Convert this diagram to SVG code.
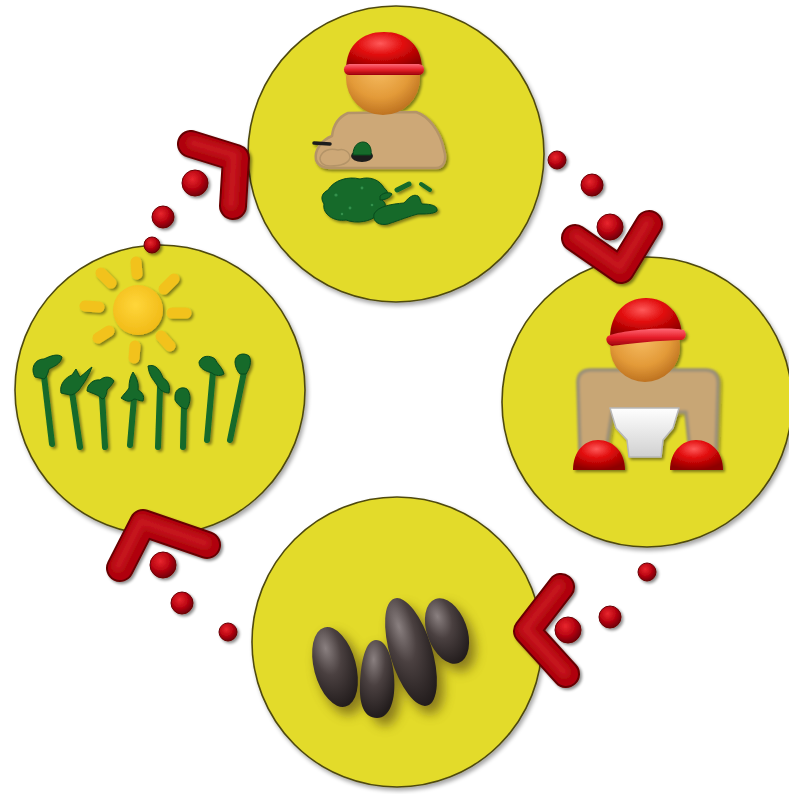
<svg xmlns="http://www.w3.org/2000/svg" width="789" height="794" viewBox="0 0 789 794">
  <defs>
    <filter id="disc-shadow" x="-10%" y="-10%" width="125%" height="125%">
      <feGaussianBlur in="SourceAlpha" stdDeviation="2"/>
      <feOffset dx="2" dy="3" result="o"/>
      <feComponentTransfer><feFuncA type="linear" slope="0.35"/></feComponentTransfer>
      <feMerge><feMergeNode/><feMergeNode in="SourceGraphic"/></feMerge>
    </filter>
    <filter id="soft-shadow" x="-30%" y="-30%" width="160%" height="160%">
      <feGaussianBlur in="SourceAlpha" stdDeviation="1.5"/>
      <feOffset dx="2" dy="2"/>
      <feComponentTransfer><feFuncA type="linear" slope="0.45"/></feComponentTransfer>
      <feMerge><feMergeNode/><feMergeNode in="SourceGraphic"/></feMerge>
    </filter>
    <filter id="heavy-blur" x="-50%" y="-50%" width="200%" height="200%">
      <feGaussianBlur stdDeviation="6"/>
    </filter>
    <filter id="edge-blur" x="-20%" y="-20%" width="140%" height="140%">
      <feGaussianBlur stdDeviation="0.8"/>
    </filter>
    <filter id="gloss-blur" x="-30%" y="-30%" width="160%" height="160%">
      <feGaussianBlur stdDeviation="2.5"/>
    </filter>
    <radialGradient id="red-gloss" cx="45%" cy="30%" r="70%">
      <stop offset="0" stop-color="#ff5a5a"/>
      <stop offset="0.45" stop-color="#e00a0a"/>
      <stop offset="1" stop-color="#8e0000"/>
    </radialGradient>
    <linearGradient id="brim" x1="0" y1="0" x2="0" y2="1">
      <stop offset="0" stop-color="#ff6a78"/>
      <stop offset="0.5" stop-color="#e8202c"/>
      <stop offset="1" stop-color="#9a0008"/>
    </linearGradient>
    <radialGradient id="head-skin" cx="45%" cy="35%" r="70%">
      <stop offset="0" stop-color="#f8bf66"/>
      <stop offset="0.6" stop-color="#e39a38"/>
      <stop offset="1" stop-color="#b66a1c"/>
    </radialGradient>
    <radialGradient id="dot-red" cx="40%" cy="35%" r="65%">
      <stop offset="0" stop-color="#e8262e"/>
      <stop offset="0.55" stop-color="#bb0612"/>
      <stop offset="1" stop-color="#740006"/>
    </radialGradient>
    <radialGradient id="bean" cx="40%" cy="25%" r="75%">
      <stop offset="0" stop-color="#8a8080"/>
      <stop offset="0.45" stop-color="#4a4040"/>
      <stop offset="1" stop-color="#221c1c"/>
    </radialGradient>
    <radialGradient id="sun-fill" cx="45%" cy="40%" r="65%">
      <stop offset="0" stop-color="#ffd63a"/>
      <stop offset="1" stop-color="#f0b814"/>
    </radialGradient>
    <linearGradient id="diaper" x1="0" y1="0" x2="0" y2="1">
      <stop offset="0" stop-color="#ffffff"/>
      <stop offset="1" stop-color="#d0d0d0"/>
    </linearGradient>
    <style>
      .disc { fill: #e3db2b; stroke: #4f4a10; stroke-width: 1.6; filter: url(#disc-shadow); }
      .cap { fill: url(#red-gloss); }
      .brim { fill: url(#brim); }
      .head { fill: url(#head-skin); }
      .body { fill: #cda877; stroke: #b49468; stroke-width: 2.5; stroke-linejoin: round; }
      .leaf { fill: #126b2c; stroke: #0a4a1c; stroke-width: 1; }
      .stem { stroke: #126b2c; stroke-width: 6; stroke-linecap: round; fill: none; }
      .ray { stroke: #f2c21c; stroke-width: 11; stroke-linecap: round; fill: none; }
      .bean { fill: url(#bean); }
      .chev-edge { fill: none; stroke: #680006; stroke-width: 28; stroke-linecap: round; stroke-linejoin: round; }
      .chev-main { fill: none; stroke: #b0060f; stroke-width: 24; stroke-linecap: round; stroke-linejoin: round; }
      .chev-shine { fill: none; stroke: #d8202c; stroke-width: 10; stroke-linecap: round; stroke-linejoin: round; opacity: 0.55; filter: url(#gloss-blur); }
      .dot { fill: url(#dot-red); stroke: #6a0006; stroke-width: 1; }
    </style>
  </defs>

  <rect width="789" height="794" fill="#ffffff"/>

  <!-- harvesting: person picking leaves -->
  <g id="node-harvest">
    <circle class="disc" cx="396" cy="154" r="148"/>
    <g filter="url(#soft-shadow)">
      <path class="body" d="M348,113 C336,118 333,128 332,136 C322,140 314,150 316,160 C318,166 324,168 330,168 L436,168 C444,168 447,160 444,150 C440,130 428,116 416,112 Z"/>
      <path d="M320,158 C322,150 330,148 338,150 C344,148 350,152 350,158 C348,164 340,166 330,166 C324,166 320,163 320,158 Z" fill="none" stroke="#b49468" stroke-width="1.5"/>
      <line x1="314" y1="143" x2="330" y2="144" stroke="#1a1a1a" stroke-width="3.5" stroke-linecap="round"/>
      <ellipse cx="362" cy="156" rx="11" ry="6" fill="#1a1a1a"/>
      <path d="M353,155 C353,146 358,142 363,142 C369,142 372,148 371,155 Z" class="leaf"/>
      <circle class="head" cx="383" cy="78" r="37"/>
      <path class="cap" d="M346,70 C346,45 362,32 384,32 C406,32 422,45 422,70 Z"/>
      <rect class="brim" x="344" y="64" width="80" height="11" rx="5.5"/>
    </g>
    <g filter="url(#soft-shadow)">
      <path class="leaf" d="M328,190 C334,180 348,176 360,179 C370,176 380,180 384,188 C390,192 388,198 382,200 C388,204 386,212 378,214 C372,222 356,224 346,220 C334,222 322,214 324,204 C320,198 322,193 328,190 Z"/>
      <path class="leaf" d="M374,214 C378,206 392,204 404,203 C410,196 414,194 418,196 C421,199 420,202 422,204 C432,204 438,206 437,211 C434,214 426,214 418,214 C410,216 400,220 388,224 C380,226 372,222 374,214 Z"/>
      <path class="leaf" d="M380,196 C384,192 390,192 392,194 C390,198 385,200 380,200 Z"/>
      <line x1="397" y1="190" x2="409" y2="184" stroke="#126b2c" stroke-width="5" stroke-linecap="round"/>
      <line x1="421" y1="184" x2="430" y2="190" stroke="#126b2c" stroke-width="4" stroke-linecap="round"/>
      <g fill="#3f9a55" opacity="0.8">
        <circle cx="336" cy="195" r="1.6"/>
        <circle cx="350" cy="208" r="1.4"/>
        <circle cx="362" cy="188" r="1.4"/>
        <circle cx="372" cy="205" r="1.3"/>
        <circle cx="342" cy="214" r="1.2"/>
      </g>
    </g>
  </g>

  <!-- person squatting -->
  <g id="node-squat">
    <circle class="disc" cx="647" cy="402" r="145"/>
    <g filter="url(#soft-shadow)">
      <path d="M578,382 Q578,370 591,370 L705,370 Q718,370 718,383 L716,450 L690,450 L686,412 L612,412 L606,450 L580,450 Z" fill="#c8a674" stroke="#9d9178" stroke-width="3.5" stroke-linejoin="round" filter="url(#edge-blur)"/>
      <path d="M610,408 L679,408 L673,428 L663,440 L661,457 L629,457 L627,440 L616,428 Z" fill="url(#diaper)" stroke="#b8b8b8" stroke-width="1.5" stroke-linejoin="round"/>
      <path class="cap" d="M573,470 C573,452 584,440 598,440 C613,440 625,452 625,470 Z"/>
      <path class="cap" d="M670,470 C670,452 682,440 696,440 C711,440 723,452 723,470 Z"/>
      <circle class="head" cx="645" cy="347" r="35"/>
      <path class="cap" d="M610,338 C610,313 626,298 646,298 C666,298 682,313 682,338 Z"/>
      <path class="brim" d="M608,336 C620,330 670,326 684,330 C687,334 686,338 682,340 C664,340 624,344 612,346 C606,344 605,338 608,336 Z"/>
    </g>
  </g>

  <!-- beans with soft shadow -->
  <g id="node-beans">
    <circle class="disc" cx="397" cy="642" r="145"/>
    <g filter="url(#heavy-blur)" fill="#6a5a12" opacity="0.75">
      <ellipse cx="341" cy="674" rx="22" ry="42" transform="rotate(-15 341 674)"/>
      <ellipse cx="382" cy="686" rx="18" ry="40" transform="rotate(-6 382 686)"/>
      <ellipse cx="417" cy="660" rx="22" ry="56" transform="rotate(-17 417 660)"/>
      <ellipse cx="453" cy="638" rx="20" ry="35" transform="rotate(-20 453 638)"/>
    </g>
    <ellipse class="bean" cx="335" cy="667" rx="21" ry="41" transform="rotate(-15 335 667)"/>
    <path class="bean" d="M376,640 C386,640 392,656 394,676 C396,700 390,718 377,718 C364,718 359,704 360,684 C361,660 366,640 376,640 Z"/>
    <ellipse class="bean" cx="411" cy="652" rx="21" ry="56" transform="rotate(-17 411 652)"/>
    <ellipse class="bean" cx="447" cy="631" rx="20" ry="34" transform="rotate(-20 447 631)"/>
  </g>

  <!-- sun over young plants -->
  <g id="node-growth">
    <circle class="disc" cx="160" cy="390" r="145"/>
    <g filter="url(#soft-shadow)">
      <line class="ray" x1="136" y1="262" x2="137" y2="274"/>
      <line class="ray" x1="164" y1="289" x2="174" y2="279"/>
      <line class="ray" x1="172" y1="313" x2="186" y2="313"/>
      <line class="ray" x1="161" y1="336" x2="170" y2="346"/>
      <line class="ray" x1="135" y1="346" x2="134" y2="358"/>
      <line class="ray" x1="98" y1="338" x2="109" y2="331"/>
      <line class="ray" x1="85" y1="306" x2="99" y2="307"/>
      <line class="ray" x1="101" y1="273" x2="111" y2="283"/>
      <circle cx="138" cy="310" r="25" fill="url(#sun-fill)"/>
    </g>
    <g filter="url(#soft-shadow)">
      <line class="stem" x1="44" y1="376" x2="52" y2="444"/>
      <path class="leaf" d="M35,377 C30,368 35,359 44,359 C50,356 58,353 62,357 C61,364 53,367 49,369 C48,373 47,377 44,379 Z"/>
      <line class="stem" x1="72" y1="392" x2="80" y2="447"/>
      <path class="leaf" d="M61,393 C59,384 66,377 72,375 L76,369 L80,377 C85,373 89,369 92,367 C89,375 85,382 81,387 C79,391 74,395 70,395 Z"/>
      <line class="stem" x1="102" y1="396" x2="105" y2="447"/>
      <path class="leaf" d="M87,391 C87,384 94,379 100,380 C104,376 111,376 114,381 C112,385 109,388 107,390 C107,394 105,399 102,399 C99,395 94,394 87,391 Z"/>
      <line class="stem" x1="134" y1="398" x2="130" y2="445"/>
      <path class="leaf" d="M133,372 C137,378 139,384 138,390 C142,392 145,396 143,401 C139,401 136,399 134,399 C130,403 126,401 121,398 C124,394 128,390 129,388 C129,382 130,377 133,372 Z"/>
      <line class="stem" x1="160" y1="388" x2="158" y2="447"/>
      <path class="leaf" d="M148,366 C156,363 161,372 163,378 C167,380 171,385 169,393 C164,393 160,390 158,387 C155,381 149,377 148,366 Z"/>
      <line class="stem" x1="184" y1="406" x2="183" y2="447"/>
      <path class="leaf" d="M175,396 C175,389 182,386 187,389 C191,394 191,402 187,409 C182,409 177,404 175,400 Z"/>
      <line class="stem" x1="213" y1="372" x2="207" y2="440"/>
      <path class="leaf" d="M199,362 C202,355 210,355 215,359 C217,364 223,368 224,374 C219,377 214,375 212,373 C206,371 199,369 199,362 Z"/>
      <line class="stem" x1="244" y1="372" x2="230" y2="440"/>
      <path class="leaf" d="M235,362 C235,354 244,352 249,356 C252,361 250,368 246,374 L240,374 C237,371 235,366 235,362 Z"/>
    </g>
  </g>

  <!-- chevrons with trailing dots between the stages -->
  <g id="connectors" filter="url(#soft-shadow)">
    <g id="arrow-growth-harvest">
      <polyline class="chev-edge" points="191,144 236,158 233,206"/>
      <polyline class="chev-main" points="191,144 236,158 233,206"/>
      <polyline class="chev-shine" points="193,143 234,155 231,204"/>
      <circle class="dot" cx="195" cy="183" r="13"/>
      <circle class="dot" cx="163" cy="217" r="11"/>
      <circle class="dot" cx="152" cy="245" r="8"/>
    </g>
    <g id="arrow-harvest-squat">
      <polyline class="chev-edge" points="575,238 621,270 649,224"/>
      <polyline class="chev-main" points="575,238 621,270 649,224"/>
      <polyline class="chev-shine" points="576,236 620,267 647,223"/>
      <circle class="dot" cx="557" cy="160" r="9"/>
      <circle class="dot" cx="592" cy="185" r="11"/>
      <circle class="dot" cx="610" cy="227" r="13"/>
    </g>
    <g id="arrow-squat-beans">
      <polyline class="chev-edge" points="561,587 527,631 566,674"/>
      <polyline class="chev-main" points="561,587 527,631 566,674"/>
      <polyline class="chev-shine" points="559,586 525,629 564,672"/>
      <circle class="dot" cx="568" cy="630" r="13"/>
      <circle class="dot" cx="610" cy="617" r="11"/>
      <circle class="dot" cx="647" cy="572" r="9"/>
    </g>
    <g id="arrow-beans-growth">
      <polyline class="chev-edge" points="120,568 143,523 207,545"/>
      <polyline class="chev-main" points="120,568 143,523 207,545"/>
      <polyline class="chev-shine" points="118,566 141,521 205,543"/>
      <circle class="dot" cx="163" cy="565" r="13"/>
      <circle class="dot" cx="182" cy="603" r="11"/>
      <circle class="dot" cx="228" cy="632" r="9"/>
    </g>
  </g>
</svg>
